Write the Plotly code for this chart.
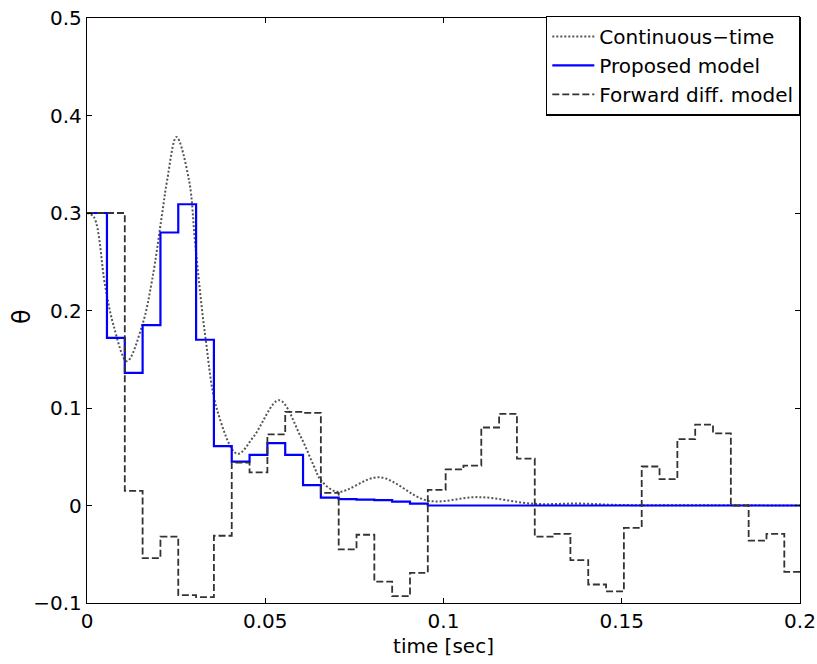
import plotly.graph_objects as go

# Sample (step) start times in seconds
step_times = [0.0, 0.0056, 0.0106, 0.0156, 0.0206, 0.0256, 0.0306, 0.0356, 0.0406, 0.0456,
              0.0506, 0.0556, 0.0606, 0.0656, 0.0706, 0.0756, 0.0806, 0.0856, 0.0906, 0.0956,
              0.1006, 0.1056, 0.1106, 0.1156, 0.1206, 0.1256, 0.1306, 0.1356, 0.1406, 0.1456,
              0.1506, 0.1556, 0.1606, 0.1656, 0.1706, 0.1756, 0.1806, 0.1856, 0.1906, 0.1956]
t_end = 0.2

proposed = [0.300, 0.172, 0.136, 0.185, 0.280, 0.309, 0.170, 0.061, 0.045, 0.052,
            0.064, 0.052, 0.021, 0.008, 0.0065, 0.006, 0.0055, 0.004, 0.002, 0.0,
            0.0, 0.0, 0.0, 0.0, 0.0, 0.0, 0.0, 0.0, 0.0, 0.0,
            0.0, 0.0, 0.0, 0.0, 0.0, 0.0, 0.0, 0.0, 0.0, 0.0]

forward = [0.300, 0.300, 0.015, -0.054, -0.032, -0.092, -0.094, -0.031, 0.044, 0.034,
           0.073, 0.096, 0.095, 0.013, -0.045, -0.030, -0.078, -0.093, -0.069, 0.016,
           0.037, 0.041, 0.080, 0.094, 0.048, -0.032, -0.029, -0.056, -0.081, -0.088,
           -0.023, 0.040, 0.027, 0.068, 0.083, 0.074, 0.0, -0.036, -0.029, -0.068]

cont_t = [0.0, 0.0019, 0.0051, 0.0075, 0.0112, 0.0155, 0.0183, 0.0211, 0.0225, 0.0251,
          0.0286, 0.0304, 0.0332, 0.0365, 0.0422, 0.0468, 0.0539, 0.0599, 0.0637, 0.0656,
          0.0703, 0.0820, 0.0956, 0.1100, 0.1255, 0.1380, 0.1500, 0.1750, 0.2000]
cont_v = [0.300, 0.296, 0.225, 0.184, 0.148, 0.185, 0.232, 0.300, 0.334, 0.378,
          0.334, 0.266, 0.173, 0.098, 0.053, 0.071, 0.108, 0.071, 0.040, 0.026,
          0.014, 0.029, 0.005, 0.0086, 0.0017, 0.002, 0.0005, 0.0003, 0.0]

x_ticks = [0, 0.05, 0.1, 0.15, 0.2]
x_ticktext = ["0", "0.05", "0.1", "0.15", "0.2"]
y_ticks = [-0.1, 0, 0.1, 0.2, 0.3, 0.4, 0.5]
y_ticktext = ["\u22120.1", "0", "0.1", "0.2", "0.3", "0.4", "0.5"]

FONT = "DejaVu Sans"
FS = 20

fig = go.Figure()
fig.add_trace(go.Scatter(
    x=cont_t, y=cont_v, mode="lines", name="Continuous\u2212time",
    line=dict(color="#555555", width=2, dash="2px,2px", shape="spline", smoothing=1.0)))
fig.add_trace(go.Scatter(
    x=step_times + [t_end], y=proposed + [proposed[-1]], mode="lines", name="Proposed model",
    line=dict(color="#0000ff", width=2.2, shape="hv")))
fig.add_trace(go.Scatter(
    x=step_times + [t_end], y=forward + [forward[-1]], mode="lines", name="Forward diff. model",
    line=dict(color="#333333", width=1.8, dash="7px,3px", shape="hv")))

axis_common = dict(showline=True, linecolor="black", linewidth=1.3, mirror="allticks",
                   ticks="inside", ticklen=5, tickcolor="black", showgrid=False, zeroline=False,
                   automargin=False,
                   tickfont=dict(family=FONT, size=FS, color="black"))

fig.update_layout(
    width=817, height=664,
    margin=dict(l=87, r=17, t=18, b=61),
    paper_bgcolor="white", plot_bgcolor="white",
    font=dict(family=FONT, size=FS, color="black"),
    xaxis=dict(range=[0, 0.2], tickvals=x_ticks, ticktext=x_ticktext,
               title=dict(text="time [sec]", font=dict(family=FONT, size=FS), standoff=6),
               **axis_common),
    yaxis=dict(range=[-0.1, 0.5], tickvals=y_ticks, ticktext=y_ticktext,
               **axis_common),
    legend=dict(x=1, y=1.004, xanchor="right", yanchor="top", bgcolor="white",
                bordercolor="black", borderwidth=1.3, itemwidth=42,
                font=dict(family=FONT, size=FS, color="black"), tracegroupgap=0),
    showlegend=True,
    annotations=[dict(text="\u03b8", xref="paper", yref="paper", x=-0.091, y=0.489,
                      xanchor="center", yanchor="middle", showarrow=False, textangle=-90,
                      font=dict(family=FONT, size=24, color="black"))],
)

fig.write_html("out.html")
